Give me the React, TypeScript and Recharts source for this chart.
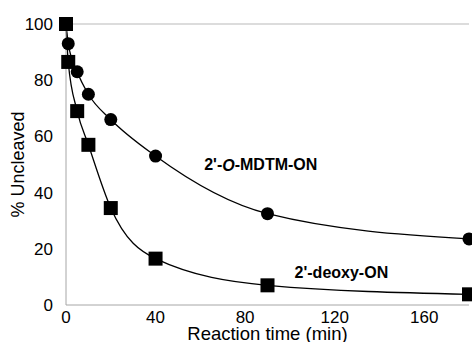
import {
  LineChart,
  Line,
  XAxis,
  YAxis,
  ReferenceLine,
  ReferenceDot,
} from "recharts";

// Reaction time (min) and % uncleaved for each oligo
const times = [0, 1, 5, 10, 20, 40, 90, 180];
const mdtmValues = [100, 93, 83, 75, 66, 53, 32.5, 23.5];
const deoxyValues = [100, 86.5, 69, 57, 34.5, 16.5, 7, 3.8];

const xTicks = [0, 40, 80, 120, 160];
const yTicks = [0, 20, 40, 60, 80, 100];

const data = times.map((t, i) => ({
  time: t,
  mdtm: mdtmValues[i],
  deoxy: deoxyValues[i],
}));

const FONT = '"Liberation Sans", Arial, sans-serif';

function SquareDot({ cx, cy }: { cx?: number; cy?: number }) {
  if (cx == null || cy == null) return null;
  return <rect x={cx - 7} y={cy - 7} width={14} height={14} fill="#000" />;
}

function CircleDot({ cx, cy }: { cx?: number; cy?: number }) {
  if (cx == null || cy == null) return null;
  return <circle cx={cx} cy={cy} r={6.5} fill="#000" />;
}

// series name labels, anchored in data space
function MdtmLabel({ viewBox }: any) {
  const x = viewBox.cx ?? viewBox.x;
  const y = viewBox.cy ?? viewBox.y;
  return (
    <text
      x={x}
      y={y}
      textAnchor="middle"
      dominantBaseline="central"
      fontFamily={FONT}
      fontSize={16}
      fontWeight="bold"
      fill="#000"
    >
      2'-<tspan fontStyle="italic">O</tspan>-MDTM-ON
    </text>
  );
}

function DeoxyLabel({ viewBox }: any) {
  const x = viewBox.cx ?? viewBox.x;
  const y = viewBox.cy ?? viewBox.y;
  return (
    <text
      x={x}
      y={y}
      textAnchor="middle"
      dominantBaseline="central"
      fontFamily={FONT}
      fontSize={16}
      fontWeight="bold"
      fill="#000"
    >
      2'-deoxy-ON
    </text>
  );
}

export default function App() {
  const tick = { fill: "#000", fontSize: 17, fontFamily: FONT };
  return (
    <div style={{ position: "absolute", left: 0, top: 0, background: "#fff" }}>
      <LineChart
        width={472}
        height={342}
        data={data}
        margin={{ top: 24, right: 3, left: 0, bottom: 0 }}
      >
        <XAxis
          dataKey="time"
          type="number"
          domain={[0, 180]}
          ticks={xTicks}
          tick={tick}
          tickLine={false}
          tickSize={6}
          tickMargin={0}
          height={37}
          stroke="#a6a6a6"
          label={{
            value: "Reaction time (min)",
            position: "insideBottom",
            offset: 2,
            fill: "#000",
            fontSize: 18.5,
            fontFamily: FONT,
          }}
        />
        <YAxis
          type="number"
          domain={[0, 100]}
          ticks={yTicks}
          tick={tick}
          tickLine={false}
          tickSize={6}
          tickMargin={7}
          width={66}
          stroke="#a6a6a6"
          label={{
            value: "% Uncleaved",
            angle: -90,
            position: "insideLeft",
            offset: 18,
            fill: "#000",
            fontSize: 18,
            fontFamily: FONT,
            style: { textAnchor: "middle" },
          }}
        />
        <ReferenceLine y={100} stroke="#d0d0d0" strokeWidth={1.5} />
        <Line
          dataKey="mdtm"
          type="monotone"
          stroke="#000"
          strokeWidth={1.3}
          dot={<CircleDot />}
          activeDot={false}
          isAnimationActive={false}
        />
        <Line
          dataKey="deoxy"
          type="monotone"
          stroke="#000"
          strokeWidth={1.3}
          dot={<SquareDot />}
          activeDot={false}
          isAnimationActive={false}
        />
        <ReferenceDot x={87} y={50} r={0} stroke="none" label={<MdtmLabel />} />
        <ReferenceDot x={123} y={11.5} r={0} stroke="none" label={<DeoxyLabel />} />
      </LineChart>
    </div>
  );
}
